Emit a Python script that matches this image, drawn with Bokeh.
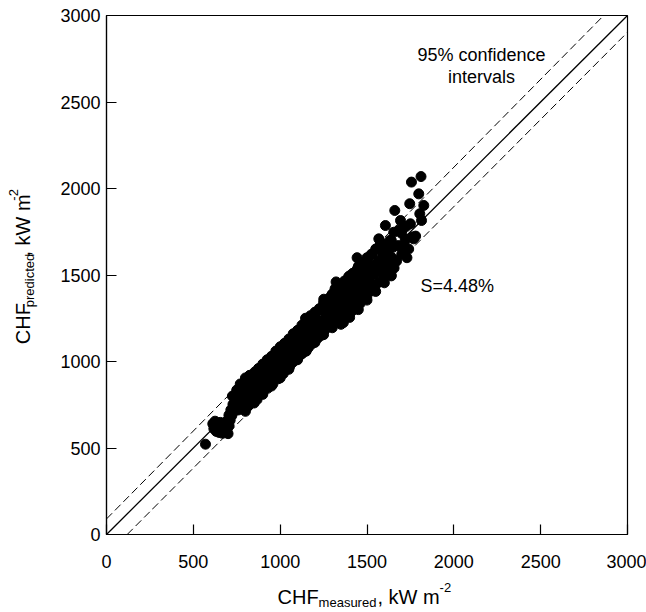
from bokeh.plotting import figure
from bokeh.models import Label, Range1d, FixedTicker
from bokeh.layouts import row, column
from bokeh.core.properties import value
from bokeh.embed import file_html
from bokeh.resources import INLINE
from math import pi

# ---------------- data ----------------
chf_measured = [
    570, 612, 618, 625, 632, 640, 648, 655, 662, 668, 675, 682, 688, 694, 700, 706, 712, 705, 716, 722,
    728, 735, 740, 746, 752, 758, 764, 770, 760, 775, 782,
    790, 795, 800, 806, 812, 818, 824, 830, 836, 842, 848, 855, 861, 867, 873, 880, 886, 892, 898, 904,
    910, 916, 922, 928, 934, 940, 946, 952, 958, 964, 970, 976, 982, 988, 994, 1000,
    1006, 1012, 1018, 1024, 1030, 1036, 1042, 1048, 1054, 1060, 1066, 1072, 1078, 1084, 1090, 1096, 1102,
    1108, 1114, 1120, 1126, 1132, 1138, 1146, 1144, 1150, 1156, 1162, 1168, 1174, 1180, 1186, 1192, 1198,
    1204, 1210, 1216, 1222, 1228, 1234, 1240, 1246, 1252, 1251, 1258, 1264, 1270, 1276, 1282, 1288, 1294, 1300,
    1305, 1310, 1316, 1322, 1318, 1328, 1334, 1340, 1346, 1352, 1358, 1364, 1370, 1376, 1382, 1388, 1394,
    1400, 1406, 1412, 1418, 1424, 1430, 1436, 1443, 1442, 1448, 1454, 1460, 1466, 1472, 1478, 1484, 1490,
    1496, 1500, 1320, 1360, 1380, 1410, 1440, 1470, 1395, 1425,
    1506, 1512, 1518, 1524, 1530, 1536, 1542, 1548, 1554, 1560, 1566, 1572, 1578, 1584, 1590, 1596, 1602,
    1608, 1614, 1620, 1626, 1632, 1638, 1644, 1650, 1656,
    1811, 1756, 1798, 1827, 1746, 1660, 1804, 1814, 1693, 1606, 1750, 1568, 1769, 1654, 1700, 1720, 1680,
    1740, 1700, 1760, 1780, 1730, 1670, 1710, 1640, 1620, 1685, 1725, 1595, 1635,
    725, 750, 775, 800, 825, 850, 875, 900, 925, 950, 975, 1000, 1025, 1050, 1075, 1100, 1125, 1150,
    1175, 1200, 1225, 1250, 1275, 1300, 1325, 1350, 1375, 1400, 1425, 1450, 1475, 1500, 1525, 1550, 1575,
    800, 850, 900, 950, 1000, 1050, 1100, 1150, 1200, 1250, 1300, 1350, 1400, 1450, 1500, 1550, 1600, 1640,
]
chf_predicted = [
    522, 640, 612, 655, 596, 628, 590, 648, 612, 585, 630, 598, 650, 608, 583, 628, 660, 690, 720, 688,
    752, 712, 790, 760, 830, 800, 845, 870, 720, 780, 820,
    860, 760, 905, 810, 880, 745, 920, 850, 790, 900, 825, 940, 870, 780, 915, 845, 960, 890, 820, 940,
    870, 985, 905, 845, 960, 890, 1000, 925, 870, 975, 905, 1030, 950, 900, 1000, 935,
    1045, 980, 930, 1060, 1005, 955, 1080, 1020, 970, 1100, 1045, 995, 1120, 1060, 1010, 1135, 1075,
    1030, 1150, 1090, 1045, 1175, 1110, 1250, 1060, 1190, 1125, 1080, 1210, 1150, 1100, 1230, 1165, 1115,
    1250, 1190, 1135, 1290, 1210, 1150, 1300, 1235, 1175, 1360, 1320, 1255, 1195, 1340, 1275, 1215, 1380, 1300,
    1240, 1360, 1420, 1460, 1285, 1330, 1395, 1250, 1440, 1300, 1370, 1225, 1465, 1330, 1405, 1265, 1490,
    1350, 1430, 1290, 1510, 1375, 1455, 1310, 1600, 1530, 1400, 1475, 1335, 1545, 1420, 1360, 1500, 1565,
    1440, 1380, 1350, 1300, 1460, 1380, 1450, 1490, 1420, 1330,
    1590, 1470, 1530, 1410, 1620, 1500, 1555, 1440, 1650, 1520, 1580, 1460, 1690, 1545, 1610, 1490, 1660,
    1570, 1515, 1630, 1560, 1700, 1500, 1600, 1660, 1540,
    2069, 2037, 1969, 1902, 1912, 1873, 1854, 1815, 1815, 1786, 1796, 1709, 1709, 1747, 1740, 1700, 1670,
    1650, 1620, 1720, 1725, 1600, 1580, 1660, 1700, 1600, 1760, 1780, 1640, 1560,
    800, 835, 860, 880, 915, 930, 960, 985, 1010, 1030, 1060, 1085, 1105, 1130, 1160, 1180, 1210, 1230,
    1265, 1285, 1305, 1340, 1360, 1390, 1410, 1445, 1460, 1495, 1510, 1550, 1570, 1600, 1620, 1650, 1670,
    712, 760, 810, 858, 905, 955, 1010, 1060, 1110, 1155, 1195, 1215, 1255, 1300, 1355, 1405, 1455, 1495,
]
axis_ticks = [0, 500, 1000, 1500, 2000, 2500, 3000]
perfect_x = [0, 3000]
perfect_y = [0, 3000]
upper_ci_x = [0, 2863]
upper_ci_y = [90, 3000]
lower_ci_x = [119, 3000]
lower_ci_y = [0, 2903]

# ---------------- layout ----------------
W, H = 646, 612
YT_W = 45                      # strip holding the y-axis title
XT_H = 34                      # strip holding the x-axis title
MW, MH = W - YT_W, H - XT_H    # main figure
L, R, T, B = 106 - YT_W, 19, 15, 44
FW, FH = MW - L - R, MH - T - B
FONT = "Liberation Sans"


def dx(px):  # page pixel -> data x
    return (px - 106) / FW * 3000


def dy(py):  # page pixel -> data y
    return (534 - py) / FH * 3000


p = figure(width=MW, height=MH, x_range=Range1d(0, 3000), y_range=Range1d(0, 3000),
           output_backend="svg", toolbar_location=None,
           min_border_left=L, min_border_right=R, min_border_top=T, min_border_bottom=B)
p.background_fill_color = "white"
p.border_fill_color = "white"
p.outline_line_color = "black"
p.outline_line_width = 1.2
p.xgrid.visible = False
p.ygrid.visible = False

for ax in (p.xaxis[0], p.yaxis[0]):
    ax.ticker = FixedTicker(ticks=axis_ticks)
    ax.major_tick_in = 10
    ax.major_tick_out = 0
    ax.minor_tick_in = 0
    ax.minor_tick_out = 0
    ax.axis_line_color = "black"
    ax.axis_line_width = 1.2
    ax.major_tick_line_width = 1.2
    ax.major_label_text_font = FONT
    ax.major_label_text_font_size = "18px"
    ax.major_label_text_color = "black"
p.xaxis.major_label_standoff = 20
p.yaxis.major_label_standoff = 6

p.line(perfect_x, perfect_y, line_color="black", line_width=1.3)
p.line(upper_ci_x, upper_ci_y, line_color="black", line_width=1, line_dash="8 4")
p.line(lower_ci_x, lower_ci_y, line_color="black", line_width=1, line_dash="8 4")

p.scatter(chf_measured, chf_predicted, size=10, fill_color="black", line_color="black")


def lab(text, px, py, size, align="left"):
    p.add_layout(Label(x=dx(px), y=dy(py), text=text, text_font=FONT,
                       text_font_size=f"{size}px", text_align=align,
                       text_baseline="middle", text_color="black"))


lab("95% confidence", 481, 54, 18, align="center")
lab("intervals", 481, 76, 18, align="center")
lab("S=4.48%", 420, 285, 18)


def strip(w, h):
    f = figure(width=w, height=h, x_range=Range1d(0, w), y_range=Range1d(0, h),
               output_backend="svg", toolbar_location=None,
               x_axis_type=None, y_axis_type=None,
               min_border_left=0, min_border_right=0, min_border_top=0, min_border_bottom=0)
    f.outline_line_color = None
    f.xgrid.visible = False
    f.ygrid.visible = False
    f.background_fill_color = "white"
    f.border_fill_color = "white"
    return f


def put(f, text, x, y, size, angle=0.0):
    f.text(x=[x], y=[y], text=[text], angle=angle, text_font=value(FONT),
           text_font_size=value(f"{size}px"), text_align="left",
           text_baseline="middle", text_color="black")


BIG, SMALL = 20, 13

# x-axis title: CHF_measured, kW m^-2  (full-width strip at the bottom, page x = strip x)
xt = strip(W, XT_H)
x0 = 277
yb = H - 596          # page y of the main text line, in strip (y-up) coordinates
put(xt, "CHF", x0, yb, BIG)
x0 += 2.055 * BIG
put(xt, "measured", x0, yb - 6, SMALL)
x0 += 4.446 * SMALL + 1
put(xt, ", kW m", x0, yb, BIG)
x0 += 3.111 * BIG
put(xt, "-2", x0, yb + 9, SMALL)

# y-axis title (rotated): CHF_predicted, kW m^-2
yt = strip(YT_W, MH)
y0 = MH - 366
put(yt, "CHF", 22, y0, BIG, angle=pi / 2)
y0 += 2.055 * BIG
put(yt, "predicted", 29, y0, SMALL, angle=pi / 2)
y0 += 4.113 * SMALL + 3
put(yt, ", kW m", 22, y0, BIG, angle=pi / 2)
y0 += 3.111 * BIG
put(yt, "-2", 13, y0, SMALL, angle=pi / 2)

layout = column(row(yt, p), xt)
open("out.html", "w").write(file_html(layout, INLINE))
